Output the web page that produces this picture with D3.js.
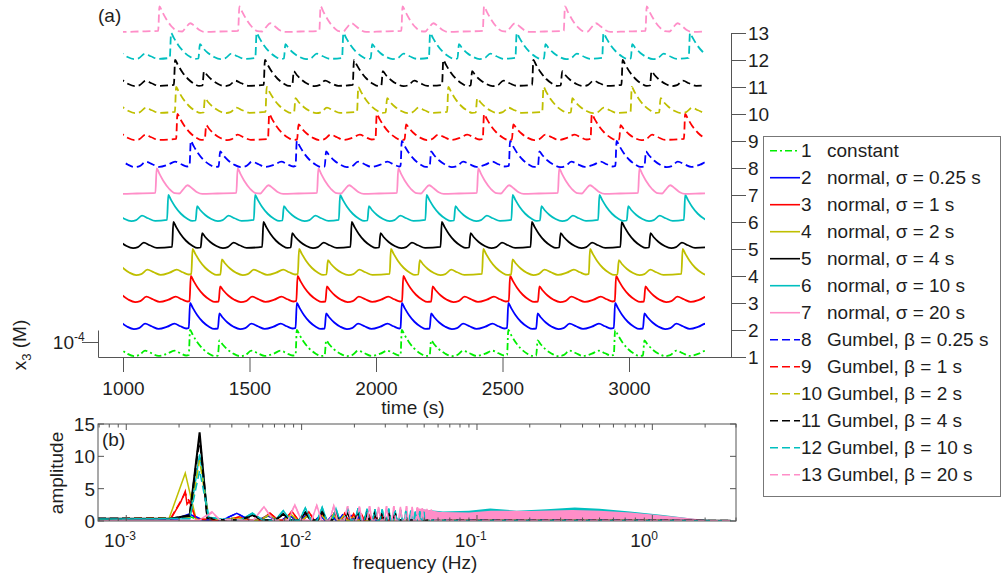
<!DOCTYPE html>
<html>
<head>
<meta charset="utf-8">
<script src="https://cdn.jsdelivr.net/npm/d3@7/dist/d3.min.js"></script>
<style>
  body { margin: 0; background: #fff; }
  text { font-family: "Liberation Sans", Arial, sans-serif; font-size: 19px; fill: #1e1e1e; }
</style>
</head>
<body>
<svg id="chart" width="1003" height="580"></svg>
<script>
// ---- panel (a) : x3 traces ----
var timeTicks = [1000, 1500, 2000, 2500, 3000];
var traceNums = ["1","2","3","4","5","6","7","8","9","10","11","12","13"];
var traceTexts = ["constant", "normal, σ = 0.25 s", "normal, σ = 1 s", "normal, σ = 2 s",
  "normal, σ = 4 s", "normal, σ = 10 s", "normal, σ = 20 s", "Gumbel, β = 0.25 s",
  "Gumbel, β = 1 s", "Gumbel, β = 2 s", "Gumbel, β = 4 s", "Gumbel, β = 10 s", "Gumbel, β = 20 s"];
var traceColors = ["#00ee00","#0000ff","#ff0000","#bfbf00","#000000","#00bfbf","#ff8ec8",
  "#0000ff","#ff0000","#bfbf00","#000000","#00bfbf","#ff8ec8"];
var traceDash = ["7,3,2,3", null, null, null, null, null, null, "8,4", "8,4", "8,4", "8,4", "8,4", "8,4"];
var traceGap = 1.8; // vertical offset between traces (1e-4 M)

// times (s) of the big spikes of every trace
var spikeTimes = [
  [845, 1265, 1687, 2102, 2523, 2945, 3365],
  [845, 1265, 1687, 2102, 2523, 2945, 3365],
  [850, 1268, 1690, 2108, 2530, 2949, 3370],
  [854, 1275, 1696, 2059, 2424, 2846, 3212],
  [844, 1199, 1555, 1904, 2260, 2616, 2971, 3326],
  [837, 1179, 1522, 1858, 2200, 2540, 2883, 3222],
  [815, 1133, 1453, 1772, 2088, 2404, 2724, 3041, 3359],
  [848, 1268, 1687, 2102, 2530, 2951, 3370],
  [850, 1215, 1578, 2003, 2427, 2853, 3222],
  [852, 1210, 1568, 1930, 2286, 2662, 3011, 3365],
  [851, 1206, 1561, 1913, 2266, 2622, 2975, 3328],
  [848, 1190, 1528, 1871, 2214, 2556, 2899, 3241],
  [822, 1144, 1460, 1781, 2105, 2427, 2747, 3070, 3392]
];
// shape of one cycle after a spike: [seconds after spike, x3 (1e-4 M)]
var longCycle = [[0,1.8],[10,1.5],[28,1.0],[50,0.55],[75,0.22],[95,0.07],[110,0.1],[116,1.1],[128,0.85],
  [148,0.5],[172,0.22],[198,0.06],[218,0.12],[242,0.42],[268,0.25],[295,0.07],[330,0.22],[358,0.42],
  [382,0.25],[405,0.1]];
var shortCycle = [[0,1.8],[10,1.5],[28,1.0],[50,0.55],[75,0.22],[95,0.07],[108,0.1],[114,1.05],[126,0.8],
  [146,0.47],[170,0.2],[196,0.06],[215,0.12],[238,0.42],[262,0.25],[290,0.08]];
var smoothCycle = [[0,1.78],[10,1.45],[28,0.9],[50,0.4],[72,0.12],[90,0.1],[105,0.38],[122,0.65],
  [140,0.45],[160,0.18],[180,0.07],[240,0.1]];
var preSpike = [-5, 0.14];

// ---- panel (b) : spectra ----
var freqTicks = [1e-3, 1e-2, 1e-1, 1];
var freqTickExp = ["-3", "-2", "-1", "0"];
var ampTicks = [0, 5, 10, 15];
var specLow = [
  [[6.9e-4,0.25],[0.0019,0.3],[0.0023,0.7],[0.0026,0.15],[0.0035,0.1],[2.8,0.05]],
  [[6.9e-4,0.3],[0.0019,0.3],[0.0023,1.1],[0.0026,0.2],[0.0035,0.1],[2.8,0.05]],
  [[6.9e-4,0.3],[0.0018,0.4],[0.00205,3.0],[0.00217,4.6],[0.00222,2.6],[0.0023,3.1],[0.0025,0.3],[0.0035,0.1],[2.8,0.05]],
  [[6.9e-4,0.3],[0.00175,0.3],[0.00217,7.4],[0.0025,0.3],[0.0035,0.15],[2.8,0.05]],
  [[6.9e-4,0.35],[0.0018,0.35],[0.0023,0.9],[0.00262,13.7],[0.0029,0.5],[0.0034,0.2],[2.8,0.05]],
  [[6.9e-4,0.3],[0.0023,0.3],[0.00262,10.3],[0.00295,0.6],[0.0035,0.3],[2.8,0.05]],
  [[6.9e-4,0.05],[0.0026,0.1],[0.00308,1.45],[0.0034,0.2],[2.8,0.05]],
  [[6.9e-4,0.3],[0.002,0.3],[0.0024,0.9],[0.0027,0.2],[0.0035,0.1],[2.8,0.05]],
  [[6.9e-4,0.3],[0.0018,0.5],[0.00217,4.3],[0.0023,2.9],[0.0025,0.3],[0.0035,0.1],[2.8,0.05]],
  [[6.9e-4,0.3],[0.0023,0.5],[0.00262,9.4],[0.00295,0.4],[0.0035,0.2],[2.8,0.05]],
  [[6.9e-4,0.4],[0.0018,0.4],[0.0023,0.8],[0.00262,13.0],[0.0029,0.5],[0.0034,0.2],[2.8,0.05]],
  [[6.9e-4,0.3],[0.0023,0.4],[0.00262,7.8],[0.00295,0.6],[0.0035,0.3],[2.8,0.05]],
  [[6.9e-4,0.05],[0.0026,0.1],[0.0031,1.3],[0.0034,0.2],[2.8,0.05]]
];
var harmGroup = ["green","blue","red","olive","black","cyan","pink","blue","red","olive","black","cyan","pink"];
var harmF = {
  pink: [0.0061,0.00915,0.0122,0.01525,0.0183,0.02135,0.0244,0.02745,0.0305,0.03355,0.0366,0.03965,0.0427,0.04575,0.0488,0.05185,0.0549],
  cyan: [0.00524,0.00786,0.0105,0.0131,0.0157,0.0183,0.021,0.0236,0.0262,0.0288,0.0314,0.0341,0.0367,0.0393,0.0419,0.0445,0.0472,0.0498],
  black: [0.00524,0.00786,0.0105,0.0131,0.0157,0.0183,0.021,0.0236,0.0262,0.0288,0.0314,0.0341],
  red: [0.0044,0.0066,0.0088,0.011,0.0132,0.0154,0.0176,0.0198,0.022,0.0242,0.0264,0.0286],
  blue: [0.00427,0.0064,0.0085,0.0107,0.0128,0.0149,0.0171,0.0192,0.0213],
  olive: [0.0043,0.0065,0.0087,0.0108,0.013,0.0152,0.0173,0.0195],
  green: [0.0065,0.0087,0.0108,0.013,0.0152]
};
var harmA = {
  pink: [2.2,2.5,2.4,2.3,2.3,2.2,2.3,2.2,2.3,2.3,2.2,2.3,2.2,2.1,2.0,1.9,1.8],
  cyan: [1.2,1.6,2.0,2.1,1.9,1.8,2.0,1.9,1.8,1.8,1.9,1.7,1.7,1.6,1.6,1.5,1.5,1.4],
  black: [0.9,1.1,1.3,1.4,1.2,1.4,1.5,1.2,1.3,1.2,1.1,1.2],
  red: [0.6,1.2,1.5,1.4,1.2,1.3,1.2,1.1,1.0,1.0,0.9,0.9],
  blue: [1.2,0.8,0.9,1.0,0.9,0.8,0.9,0.8,0.7],
  olive: [0.5,0.9,1.0,0.8,0.9,1.0,0.8,0.7],
  green: [0.8,0.7,0.8,0.7,0.6]
};
var cyanBandF = [0.045,0.064,0.09,0.119,0.168,0.25,0.361,0.5,0.745,1.15,1.5,1.79,2.3,2.9];
var cyanBandA = [1.9,1.45,1.6,1.95,1.6,1.8,2.1,1.9,1.45,0.93,0.55,0.26,0.12,0.05];
var pinkBandF = [0.045,0.062,0.09,0.12,0.2,0.35,0.5,0.75,1.0,1.3,1.8,2.2];
var pinkBandA = [2.0,1.4,1.3,1.6,1.55,1.7,1.6,1.3,1.0,0.7,0.3,0.05];

var axisColor = "#555";
var svg = d3.select("#chart");

// ---------------- panel (a) ----------------
var xA = d3.scaleLinear().domain([1000, 3000]).range([123, 629]);
var xAx = d3.scaleLinear().domain([xA.invert(98), xA.invert(731)]).range([98, 731]);
var yA = d3.scaleLinear().domain([0, 12 * traceGap]).range([357, 33]);

svg.append("defs").append("clipPath").attr("id", "clipA")
  .append("rect").attr("x", xA(1000)).attr("y", 0)
  .attr("width", xA(3300) - xA(1000)).attr("height", 360);

function traceVertices(k) {
  var pk = spikeTimes[k], pts = [];
  pk.forEach(function (t0, i) {
    var next = pk[i + 1];
    var cyc = (k == 6 || k == 12) ? smoothCycle : (next && next - t0 < 395 ? shortCycle : longCycle);
    cyc.forEach(function (p) {
      if (!next || t0 + p[0] < next + preSpike[0] - 3) pts.push([t0 + p[0], p[1]]);
    });
    if (next) pts.push([next + preSpike[0], preSpike[1]]);
  });
  return pts;
}

var gA = svg.append("g").attr("clip-path", "url(#clipA)");
traceNums.forEach(function (n, k) {
  var line = d3.line()
    .x(function (d) { return xA(d[0]); })
    .y(function (d) { return yA(k * traceGap + d[1]); })
    .curve(d3.curveMonotoneX);
  gA.append("path")
    .attr("d", line(traceVertices(k)))
    .attr("fill", "none")
    .attr("stroke", traceColors[k])
    .attr("stroke-width", 1.8)
    .attr("stroke-dasharray", traceDash[k]);
});

function styleAxis(g) {
  g.selectAll("path, line").attr("stroke", axisColor);
  g.selectAll("text").attr("fill", "#1e1e1e").style("font-size", "19px")
    .style("font-family", "'Liberation Sans', Arial, sans-serif");
}

svg.append("g").attr("transform", "translate(0,357)")
  .call(d3.axisBottom(xAx).tickValues(timeTicks).tickSize(15).tickSizeOuter(0).tickPadding(10)
    .tickFormat(d3.format("d")))
  .call(styleAxis);

svg.append("g").attr("transform", "translate(731,0)")
  .call(d3.axisRight(yA).tickValues(traceNums.map(function (n, k) { return k * traceGap; }))
    .tickFormat(function (d, i) { return traceNums[i]; })
    .tickSize(15).tickSizeOuter(0).tickPadding(2))
  .call(styleAxis);

// scale bar on the left (10^-4 M)
var yBar = d3.scaleLinear().domain([0, traceGap]).range([yA(0), yA(traceGap)]);
svg.append("g").attr("transform", "translate(98,0)")
  .call(d3.axisLeft(yBar).tickValues([1]).tickSize(16).tickSizeOuter(0).tickFormat(""))
  .call(styleAxis);
svg.append("text").attr("x", 74).attr("y", yBar(1) + 6.5).attr("text-anchor", "end").text("10");
svg.append("text").attr("x", 74).attr("y", yBar(1) - 1).style("font-size", "12px").text("-4");

var ylab = svg.append("text").attr("transform", "translate(26,345) rotate(-90)").attr("text-anchor", "middle");
ylab.append("tspan").text("x");
ylab.append("tspan").attr("dy", 5).style("font-size", "13px").text("3");
ylab.append("tspan").attr("dy", -5).text(" (M)");

svg.append("text").attr("x", 413).attr("y", 414).attr("text-anchor", "middle").text("time (s)");
svg.append("text").attr("x", 98).attr("y", 22).text("(a)");

// legend
var legend = svg.append("g");
legend.append("rect").attr("x", 763.5).attr("y", 136.5).attr("width", 237).attr("height", 360)
  .attr("fill", "#fff").attr("stroke", "#777");
traceNums.forEach(function (n, k) {
  var yy = 150.7 + 27 * k;
  legend.append("line").attr("x1", 770).attr("x2", 800).attr("y1", yy).attr("y2", yy)
    .attr("stroke", traceColors[k]).attr("stroke-width", 1.6).attr("stroke-dasharray", traceDash[k]);
  legend.append("text").attr("x", 801).attr("y", yy + 6.5).text(n);
  legend.append("text").attr("x", 827).attr("y", yy + 6.5).text(traceTexts[k]);
});

// ---------------- panel (b) ----------------
var xB = d3.scaleLog().domain([6.9e-4, 3]).range([98, 736]);
var yB = d3.scaleLinear().domain([0, 15]).range([521, 424]);

svg.select("defs").append("clipPath").attr("id", "clipB")
  .append("rect").attr("x", 98).attr("y", 424).attr("width", 638).attr("height", 97);

var gB = svg.append("g").attr("clip-path", "url(#clipB)");
var area = d3.area().x(function (d) { return xB(d[0]); }).y0(yB(0)).y1(function (d) { return yB(d[1]); });
gB.append("path").attr("d", area(cyanBandF.map(function (f, i) { return [f, cyanBandA[i]]; })))
  .attr("fill", traceColors[5]);
gB.append("path").attr("d", area(pinkBandF.map(function (f, i) { return [f, pinkBandA[i]]; })))
  .attr("fill", traceColors[6]);

var lineB = d3.line().x(function (d) { return xB(d[0]); }).y(function (d) { return yB(d[1]); });
specLow.forEach(function (low, k) {
  var grp = harmGroup[k];
  var pts = low.slice();
  harmF[grp].forEach(function (f, i) {
    pts.push([f - 0.0008, 0.1], [f, harmA[grp][i]], [f + 0.0008, 0.1]);
  });
  pts.sort(function (a, b) { return a[0] - b[0]; });
  gB.append("path").attr("d", lineB(pts)).attr("fill", "none")
    .attr("stroke", traceColors[k]).attr("stroke-width", k == 4 || k == 10 ? 2 : 1.5)
    .attr("stroke-dasharray", traceDash[k]);
});

svg.append("rect").attr("x", 98).attr("y", 424).attr("width", 638).attr("height", 97)
  .attr("fill", "none").attr("stroke", axisColor);

// log ticks, inside
var minorTicks = [];
[1e-4, 1e-3, 1e-2, 1e-1, 1].forEach(function (dec) {
  for (var m = 1; m <= 9; m++) {
    var f = dec * m;
    if (f >= 6.9e-4 && f <= 3) minorTicks.push([f, m == 1]);
  }
});
minorTicks.forEach(function (t) {
  var len = t[1] ? 6 : 3.5;
  svg.append("line").attr("x1", xB(t[0])).attr("x2", xB(t[0])).attr("y1", 424).attr("y2", 424 + len)
    .attr("stroke", axisColor);
  svg.append("line").attr("x1", xB(t[0])).attr("x2", xB(t[0])).attr("y1", 521).attr("y2", 521 - len)
    .attr("stroke", axisColor);
});
freqTicks.forEach(function (f, i) {
  svg.append("text").attr("x", xB(f) - 1).attr("y", 547).attr("text-anchor", "end").text("10");
  svg.append("text").attr("x", xB(f) - 1).attr("y", 540).style("font-size", "12px").text(freqTickExp[i]);
});
ampTicks.forEach(function (a) {
  svg.append("line").attr("x1", 98).attr("x2", 104).attr("y1", yB(a)).attr("y2", yB(a)).attr("stroke", axisColor);
  svg.append("line").attr("x1", 736).attr("x2", 730).attr("y1", yB(a)).attr("y2", yB(a)).attr("stroke", axisColor);
  svg.append("text").attr("x", 95).attr("y", yB(a) + 7).attr("text-anchor", "end").text(a);
});

svg.append("text").attr("x", 102).attr("y", 446).text("(b)");
svg.append("text").attr("x", 415).attr("y", 569).attr("text-anchor", "middle").text("frequency (Hz)");
svg.append("text").attr("transform", "translate(63,473) rotate(-90)").attr("text-anchor", "middle").text("amplitude");
</script>
</body>
</html>
